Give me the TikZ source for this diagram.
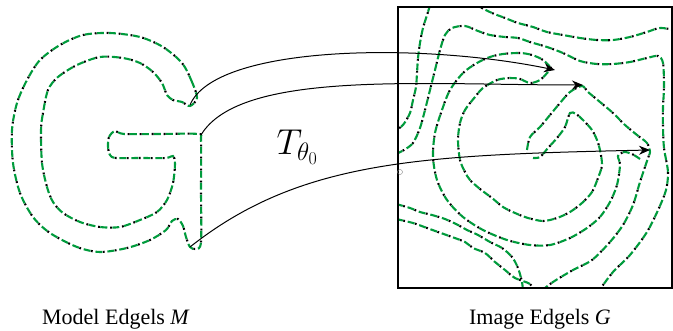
\RequirePackage{fix-cm}
\documentclass[tikz,border=0pt]{standalone}
\usepackage{fontspec}
\setmainfont{Liberation Serif}
\usetikzlibrary{arrows.meta}

\definecolor{edgelgreen}{RGB}{0,155,60}

\begin{document}
\begin{tikzpicture}[x=1pt, y=-1pt,
    edgel/.style={draw=edgelgreen, line width=2.1pt, dash pattern=on 7pt off 5pt,
      postaction={draw=black, line width=2.1pt, dash pattern=on 1.8pt off 10.2pt, dash phase=4.6pt}},
    warp/.style={draw=black, line width=1pt, -{Stealth[length=11pt, width=9pt]}},
    caption/.style={font=\fontsize{22}{26}\selectfont, anchor=base}]
  \useasboundingbox (0,0) rectangle (673,331);

  % model edgels: outline of the letter G
  \draw[edgel] plot[smooth cycle, tension=0.5] coordinates {
    (197,98) (192,82) (182,63) (163,47) (140,37) (110,33) (83,35) (60,45) (40,60) (27,80)
    (17,103) (12,130) (13,163) (20,193) (33,217) (50,233) (77,247) (100,252) (127,248)
    (150,240) (166,230) (172,221) (178,219) (183,226) (186,237) (190,247) (196,249)
    (201,242) (201,190) (201,140) (198,134) (160,134) (124,134) (115,131) (109,137)
    (108,147) (110,155) (116,158) (140,158) (166,158) (173,156) (175,164) (173,183)
    (167,200) (157,212) (140,220) (120,227) (100,227) (80,222) (63,213) (53,202) (47,187)
    (42,163) (41,130) (43,113) (48,90) (58,77) (77,65) (100,57) (123,58) (140,63)
    (153,72) (162,83) (167,95) (173,100) (182,102) (190,106)};

  % image edgels
  \begin{scope}
    \clip (398,7) rectangle (672,288);
    \draw[edgel] plot[smooth, tension=0.5] coordinates {
      (430,5) (428,12) (423,28) (420,43) (418,58) (417,73) (416,87) (413,100) (410,113)
      (403,125) (396,130)};
    \draw[edgel] plot[smooth, tension=0.5] coordinates {
      (396,154) (404,150) (413,143) (420,128) (425,110) (430,90) (435,70) (440,50) (445,35)
      (452,28) (465,26) (478,31) (490,35) (505,37) (518,38) (530,42) (547,47) (563,53)
      (580,61) (597,64) (613,64) (630,62) (647,58) (658,56) (663,63) (664,87) (663,107)
      (663,127) (664,148) (668,172) (666,190) (659,208) (647,232) (630,255) (613,272)
      (598,292)};
    \draw[edgel] plot[smooth, tension=0.5] coordinates {
      (475,4) (480,7) (492,13) (505,18) (518,23) (533,27) (547,32) (563,35) (580,38)
      (597,40) (613,40) (630,37) (647,32) (660,28) (675,30)};
    \draw[edgel] plot[smooth, tension=0.5] coordinates {
      (640,159) (632,154) (624,152) (618,156) (620,165) (617,185) (610,202) (600,217)
      (587,228) (570,238) (550,245) (530,245) (507,240) (483,230) (463,217) (447,200)
      (437,180) (433,157) (435,133) (442,110) (450,90) (463,73) (477,63) (490,57) (503,54)
      (520,53) (532,55) (543,60) (552,69)};
    \draw[edgel] plot[smooth, tension=0.5] coordinates {
      (548,72) (540,80) (530,83) (520,79) (510,78) (497,80) (483,88) (475,97) (465,110)
      (460,123) (458,140) (460,160) (465,172) (470,180) (480,189) (492,198) (503,207)
      (515,213) (528,218) (543,221) (557,218) (570,212) (582,203) (592,192) (598,178)
      (602,165) (600,150) (597,140) (592,130) (583,120) (576,114) (570,113) (565,127)
      (557,138) (548,148) (540,157) (533,158)};
    \draw[edgel] plot[smooth, tension=0.5] coordinates {
      (527,150) (530,137) (540,127) (550,115) (560,103) (570,92) (582,86) (588,92)
      (600,102) (613,113) (625,125) (637,135) (647,143) (650,152) (648,158) (640,182)
      (633,205) (623,225) (610,242) (592,260) (573,270) (553,282) (540,292)};
    \draw[edgel] plot[smooth, tension=0.5] coordinates {
      (396,204) (410,208) (420,212) (432,215) (445,219) (458,225) (467,230) (478,235)
      (490,242) (502,248) (512,257) (518,268) (522,282) (523,292)};
    \draw[edgel] plot[smooth, tension=0.5] coordinates {
      (396,219) (413,223) (427,228) (438,232) (452,237) (465,242) (473,248) (485,253)
      (495,262) (505,270) (515,278) (530,284) (535,292)};
  \end{scope}
  \draw[line width=1.3pt] (398,7) rectangle (672,288);
  \draw[gray, line width=0.4pt] (400,172) circle (2.5);

  % correspondences under T
  \coordinate (m1) at (190,105);
  \coordinate (m2) at (201,135);
  \coordinate (m3) at (190,247);
  \coordinate (g1) at (555,70);
  \coordinate (g2) at (583,85);
  \coordinate (g3) at (650,150);
  \draw[warp] (m1) .. controls (215,45) and (420,42) .. (g1);
  \draw[warp] (m2) .. controls (240,70) and (420,85) .. (g2);
  \draw[warp] (m3) .. controls (300,160) and (420,155) .. (g3);
  \node[anchor=base west, font=\fontsize{36}{40}\selectfont] (warplabel) at (273,155) {$T_{\theta_0}$};

  \node[caption] (model) at (116,325) {Model Edgels \textit{M}};
  \node[caption] (image) at (540,325) {Image Edgels \textit{G}};
\end{tikzpicture}
\end{document}
